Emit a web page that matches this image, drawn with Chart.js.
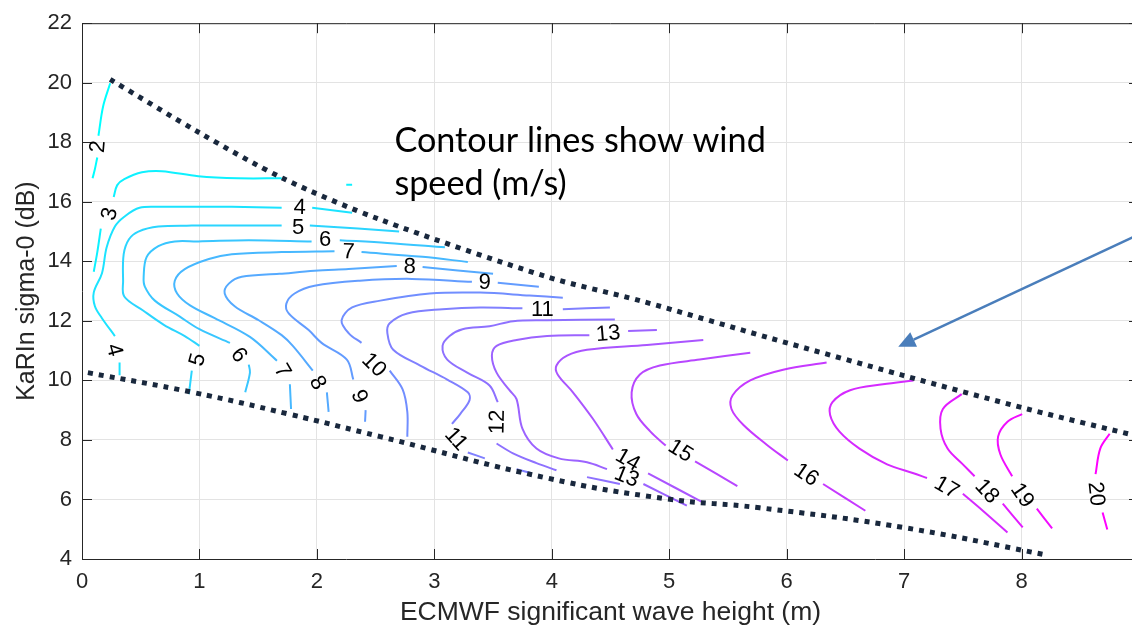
<!DOCTYPE html>
<html>
<head>
<meta charset="utf-8">
<style>
  html, body { margin: 0; padding: 0; overflow: hidden; background: #fff; }
  #wrap { width: 1150px; height: 629px; }
</style>
<script src="https://cdn.jsdelivr.net/npm/chart.js@4.4.0/dist/chart.umd.min.js"></script>
</head>
<body>
<div id="wrap"><canvas id="c" width="1150" height="629"></canvas></div>
<script>
// Axis ticks
const xTicks = [0, 1, 2, 3, 4, 5, 6, 7, 8];
const yTicks = [4, 6, 8, 10, 12, 14, 16, 18, 20, 22];

// Wind-speed contour lines (m/s). Each contour is a list of pieces, the breaks
// are where the inline labels sit. Points are [wave height (m), sigma-0 (dB)].
const speed2 = [
  [[0.24, 19.98], [0.18, 19.21], [0.14, 18.22]],
  [[0.13, 17.49], [0.11, 17.10], [0.09, 16.79]]
];
const speed3 = [
  [[1.70, 16.79], [1.33, 16.79], [0.99, 16.86], [0.68, 17.03], [0.51, 16.99], [0.36, 16.76], [0.30, 16.56], [0.27, 16.16]],
  [[0.16, 15.10], [0.13, 14.30], [0.10, 13.65]],
  [[2.25, 16.57], [2.30, 16.57]]
];
const speed4 = [
  [[1.96, 15.80], [2.30, 15.63]],
  [[1.70, 15.80], [1.275, 15.83], [0.85, 15.83], [0.68, 15.83], [0.49, 15.80], [0.36, 15.50], [0.28, 15.17],
   [0.21, 14.47], [0.17, 13.60], [0.10, 12.95], [0.11, 12.49], [0.17, 12.09], [0.28, 11.49]],
  [[0.32, 10.60], [0.32, 10.17]]
];
const speed5 = [
  [[1.94, 15.20], [2.35, 15.10], [2.70, 15.00]],
  [[1.70, 15.20], [1.275, 15.20], [0.935, 15.20], [0.65, 15.17], [0.48, 15.00], [0.40, 14.74], [0.355, 14.24],
   [0.35, 13.35], [0.36, 12.82], [0.52, 12.35], [0.70, 11.86], [0.875, 11.49], [1.00, 11.16]],
  [[0.935, 10.33], [0.91, 9.54]]
];
const speed6 = [
  [[2.195, 14.71], [2.60, 14.62], [3.09, 14.47]],
  [[1.955, 14.67], [1.42, 14.71], [0.99, 14.67], [0.79, 14.67], [0.65, 14.51], [0.55, 14.14], [0.525, 13.48],
   [0.535, 13.15], [0.62, 12.68], [0.83, 12.15], [1.00, 11.72], [1.26, 11.26]],
  [[1.42, 10.53], [1.43, 10.26], [1.39, 9.60]]
];
const speed7 = [
  [[2.38, 14.31], [2.90, 14.15], [3.285, 13.98]],
  [[2.15, 14.34], [1.70, 14.31], [1.275, 14.24], [1.08, 14.08], [0.875, 13.74], [0.79, 13.35], [0.81, 12.92],
   [0.92, 12.52], [1.13, 12.09], [1.43, 11.46], [1.66, 10.66]],
  [[1.77, 9.87], [1.78, 9.04]]
];
const speed8 = [
  [[2.90, 13.81], [3.50, 13.58]],
  [[2.68, 13.84], [2.27, 13.74], [1.98, 13.68], [1.68, 13.58], [1.36, 13.48], [1.25, 13.25], [1.215, 12.92],
   [1.30, 12.49], [1.505, 12.02], [1.70, 11.52], [1.795, 11.16], [1.965, 10.33]],
  [[2.085, 9.60], [2.10, 8.94]]
];
const speed9 = [
  [[3.54, 13.28], [3.89, 13.15]],
  [[3.32, 13.31], [2.81, 13.41], [2.365, 13.35], [1.98, 13.18], [1.81, 12.92], [1.74, 12.58], [1.76, 12.25],
   [1.93, 11.69], [2.04, 11.26], [2.255, 10.70], [2.31, 10.03]],
  [[2.415, 9.00], [2.41, 8.61]]
];
const speed10 = [
  [[4.094, 12.78], [3.81, 12.85], [3.39, 12.95], [2.96, 12.92], [2.54, 12.68], [2.30, 12.45], [2.21, 12.02],
   [2.27, 11.59], [2.38, 11.26]],
  [[2.62, 10.33], [2.73, 9.70], [2.77, 8.94], [2.77, 8.11]]
];
const speed11 = [
  [[4.094, 12.39], [4.495, 12.45]],
  [[3.75, 12.42], [3.39, 12.45], [3.07, 12.39], [2.77, 12.25], [2.62, 11.92], [2.60, 11.59], [2.65, 11.03],
   [2.88, 10.50], [3.11, 10.03], [3.285, 9.60], [3.30, 9.34], [3.22, 8.87], [3.15, 8.54]],
  [[3.285, 7.58], [3.43, 7.38]],
  [[3.70, 7.02], [3.83, 6.88]]
];
const speed12 = [
  [[4.537, 12.05], [3.96, 12.02], [3.67, 11.99], [3.47, 11.82], [3.24, 11.72], [3.13, 11.49], [3.07, 11.16],
   [3.11, 10.70], [3.28, 10.26], [3.47, 9.83], [3.54, 9.27]],
  [[3.53, 7.88], [3.67, 7.55], [3.87, 7.22], [4.04, 6.98]],
  [[4.30, 6.75], [4.58, 6.52]]
];
const speed13 = [
  [[4.65, 11.66], [4.895, 11.69]],
  [[4.32, 11.52], [3.96, 11.49], [3.70, 11.36], [3.53, 11.16], [3.49, 10.83], [3.53, 10.26], [3.64, 9.67],
   [3.70, 9.37], [3.75, 8.38], [3.87, 7.71], [4.06, 7.38], [4.30, 7.25], [4.47, 7.02]],
  [[4.78, 6.52], [5.15, 5.79]]
];
const speed14 = [
  [[5.29, 11.36], [4.81, 11.19], [4.30, 11.03], [4.13, 10.83], [4.04, 10.50], [4.05, 10.20], [4.18, 9.60],
   [4.35, 8.71], [4.52, 7.68]],
  [[4.82, 6.88], [5.29, 5.89]]
];
const speed15 = [
  [[5.69, 10.93], [5.26, 10.70], [4.92, 10.50], [4.75, 10.20], [4.68, 9.60], [4.72, 8.87], [4.84, 8.28],
   [4.97, 7.81]],
  [[5.22, 7.28], [5.58, 6.45]]
];
const speed16 = [
  [[6.34, 10.60], [5.97, 10.36], [5.69, 10.00], [5.54, 9.50], [5.53, 9.04], [5.63, 8.51], [5.83, 7.84], [6.01, 7.31]],
  [[6.31, 6.52], [6.67, 5.62]]
];
const speed17 = [
  [[7.08, 10.00], [6.82, 9.87], [6.54, 9.67], [6.39, 9.27], [6.37, 8.84], [6.45, 8.28], [6.62, 7.71],
   [6.855, 7.18], [7.08, 6.88], [7.195, 6.72]],
  [[7.50, 6.19], [7.67, 5.62], [7.88, 4.89]]
];
const speed18 = [
  [[7.49, 9.54], [7.33, 9.04], [7.31, 8.38], [7.37, 7.71], [7.50, 7.18], [7.60, 6.78]],
  [[7.84, 5.86], [8.01, 5.06]]
];
const speed19 = [
  [[8.005, 8.87], [7.88, 8.61], [7.80, 8.11], [7.82, 7.51], [7.92, 6.78]],
  [[8.13, 5.69], [8.26, 5.03]]
];
const speed20 = [
  [[8.75, 8.21], [8.67, 7.71], [8.63, 6.85]],
  [[8.69, 5.56], [8.73, 4.99]]
];

const contourSets = [
  [2, speed2], [3, speed3], [4, speed4], [5, speed5], [6, speed6], [7, speed7], [8, speed8],
  [9, speed9], [10, speed10], [11, speed11], [12, speed12], [13, speed13], [14, speed14],
  [15, speed15], [16, speed16], [17, speed17], [18, speed18], [19, speed19], [20, speed20]
];

// Inline contour labels: [speed, wave height, sigma-0, text rotation in degrees]
const contourLabels = [
  [2, 0.13, 17.86, -85], [3, 0.23, 15.60, -75],
  [4, 1.855, 15.83, 1], [5, 1.84, 15.17, 0], [6, 2.07, 14.74, 0], [7, 2.27, 14.34, 2],
  [8, 2.79, 13.84, 1], [9, 3.43, 13.31, 1], [11, 3.92, 12.39, 0], [13, 4.48, 11.59, -5],
  [4, 0.28, 11.03, 75], [5, 0.98, 10.70, -75], [6, 1.34, 10.86, 52], [7, 1.71, 10.33, 60],
  [8, 2.01, 9.93, 60], [9, 2.365, 9.47, 68], [10, 2.49, 10.53, 45], [11, 3.19, 8.04, 48],
  [12, 3.53, 8.61, -89], [14, 4.65, 7.35, 30], [13, 4.64, 6.78, 22], [15, 5.10, 7.65, 32],
  [16, 6.17, 6.85, 34], [17, 7.365, 6.42, 30], [18, 7.71, 6.29, 47], [19, 8.01, 6.15, 55],
  [20, 8.64, 6.19, 84]
];

// Dotted envelope of the data
const upperEdge = [[0.24, 20.11], [1.00, 18.32], [1.71, 16.79], [2.54, 15.40], [3.96, 13.48],
  [4.75, 12.68], [5.85, 11.43], [6.99, 10.17], [8.05, 9.04], [9.05, 8.07]];
const lowerEdge = [[0.05, 10.26], [0.94, 9.60], [1.76, 8.87], [2.54, 8.11], [3.96, 6.72],
  [4.98, 6.02], [5.77, 5.72], [6.99, 5.06], [8.22, 4.13]];

// Annotation
const noteLines = [
  ['Contour lines show wind', 2.66, 17.66],
  ['speed (m/s)', 2.66, 16.23]
];
const arrowFrom = [9.05, 15.0];
const arrowTo = [6.95, 11.13];

const AXIS_COLOR = '#262626';
const SANS = '"Liberation Sans", Arial, Helvetica, sans-serif';

function coolColor(v) {
  const t = (v - 2) / 18;
  return 'rgb(' + Math.round(255 * t) + ',' + Math.round(255 * (1 - t)) + ',255)';
}

function piecesToData(pieces) {
  const out = [];
  pieces.forEach((p, i) => {
    if (i > 0) out.push({ x: null, y: null });
    p.forEach(([x, y]) => out.push({ x, y }));
  });
  return out;
}

const datasets = [];
datasets.push({
  label: 'upper', data: upperEdge.map(([x, y]) => ({ x, y })),
  borderColor: '#19283d', borderWidth: 5, borderDash: [5, 6], borderCapStyle: 'butt',
  pointRadius: 0, tension: 0.3, order: 0
});
datasets.push({
  label: 'lower', data: lowerEdge.map(([x, y]) => ({ x, y })),
  borderColor: '#19283d', borderWidth: 5, borderDash: [5, 6], borderCapStyle: 'butt',
  pointRadius: 0, tension: 0.45, order: 0
});
contourSets.forEach(([v, pieces]) => {
  datasets.push({
    label: v + ' m/s', data: piecesToData(pieces),
    borderColor: coolColor(v), borderWidth: 2, pointRadius: 0,
    tension: 0.35, spanGaps: false, order: 1
  });
});

const overlay = {
  id: 'overlay',
  afterDatasetsDraw(chart) {
    const { ctx, chartArea: a, scales: { x, y } } = chart;
    ctx.save();

    // frame on top/right and inward tick marks on every side
    ctx.strokeStyle = AXIS_COLOR;
    ctx.lineWidth = 1;
    ctx.beginPath();
    ctx.moveTo(a.left, a.top + 0.5); ctx.lineTo(a.right, a.top + 0.5);
    ctx.moveTo(a.right - 0.5, a.top); ctx.lineTo(a.right - 0.5, a.bottom);
    xTicks.forEach(v => {
      const px = Math.round(x.getPixelForValue(v)) + 0.5;
      ctx.moveTo(px, a.bottom); ctx.lineTo(px, a.bottom - 10);
      ctx.moveTo(px, a.top); ctx.lineTo(px, a.top + 10);
    });
    yTicks.forEach(v => {
      const py = Math.round(y.getPixelForValue(v)) + 0.5;
      ctx.moveTo(a.left, py); ctx.lineTo(a.left + 10, py);
      ctx.moveTo(a.right, py); ctx.lineTo(a.right - 10, py);
    });
    ctx.stroke();

    // contour labels
    ctx.fillStyle = '#000';
    ctx.font = '22px ' + SANS;
    ctx.textAlign = 'center';
    ctx.textBaseline = 'middle';
    contourLabels.forEach(([v, lx, ly, rot]) => {
      ctx.save();
      ctx.translate(x.getPixelForValue(lx), y.getPixelForValue(ly));
      ctx.rotate(rot * Math.PI / 180);
      ctx.fillText(String(v), 0, 1);
      ctx.restore();
    });

    // annotation text
    ctx.textAlign = 'left';
    ctx.textBaseline = 'alphabetic';
    ctx.font = '32px Lato, "Open Sans", sans-serif';
    const w = ctx.measureText(noteLines[0][0]).width;
    const size = 32 * 372 / w;
    ctx.font = size.toFixed(1) + 'px Lato, "Open Sans", sans-serif';
    noteLines.forEach(([t, tx, ty]) => {
      ctx.fillText(t, x.getPixelForValue(tx), y.getPixelForValue(ty));
    });

    // arrow
    const x0 = x.getPixelForValue(arrowFrom[0]), y0 = y.getPixelForValue(arrowFrom[1]);
    const x1 = x.getPixelForValue(arrowTo[0]), y1 = y.getPixelForValue(arrowTo[1]);
    const ang = Math.atan2(y1 - y0, x1 - x0);
    const headLen = 17, headHalf = 8;
    const bx = x1 - headLen * Math.cos(ang), by = y1 - headLen * Math.sin(ang);
    ctx.strokeStyle = '#4a7ebb';
    ctx.fillStyle = '#4a7ebb';
    ctx.lineWidth = 2.5;
    ctx.beginPath();
    ctx.moveTo(x0, y0); ctx.lineTo(bx, by);
    ctx.stroke();
    ctx.beginPath();
    ctx.moveTo(x1, y1);
    ctx.lineTo(bx + headHalf * Math.sin(ang), by - headHalf * Math.cos(ang));
    ctx.lineTo(bx - headHalf * Math.sin(ang), by + headHalf * Math.cos(ang));
    ctx.closePath();
    ctx.fill();

    ctx.restore();
  }
};

new Chart(document.getElementById('c'), {
  type: 'line',
  data: { datasets },
  options: {
    responsive: false,
    animation: false,
    devicePixelRatio: 1,
    layout: { padding: { top: 16, right: 11, left: 0, bottom: 0 } },
    plugins: { legend: { display: false }, tooltip: { enabled: false } },
    scales: {
      x: {
        type: 'linear', min: 0, max: 9,
        afterBuildTicks: s => { s.ticks = xTicks.map(v => ({ value: v })); },
        afterFit: s => { s.height = 70; },
        grid: { color: '#e3e3e3', lineWidth: 1, drawTicks: false },
        border: { color: AXIS_COLOR, width: 1 },
        ticks: { padding: 10, color: AXIS_COLOR, font: { family: SANS, size: 22 }, maxRotation: 0 },
        title: { display: true, text: 'ECMWF significant wave height (m)', color: AXIS_COLOR,
                 font: { family: SANS, size: 26.5 }, padding: { top: 0, bottom: 0 } }
      },
      y: {
        type: 'linear', min: 4, max: 22,
        afterBuildTicks: s => { s.ticks = yTicks.map(v => ({ value: v })); },
        afterFit: s => { s.width = 82; },
        grid: { color: '#e3e3e3', lineWidth: 1, drawTicks: false },
        border: { color: AXIS_COLOR, width: 1 },
        ticks: { padding: 10, color: AXIS_COLOR, font: { family: SANS, size: 22 } },
        title: { display: true, text: 'KaRIn sigma-0 (dB)', color: AXIS_COLOR,
                 font: { family: SANS, size: 25 }, padding: { top: 12, bottom: 0 } }
      }
    }
  },
  plugins: [overlay]
});
</script>
</body>
</html>
